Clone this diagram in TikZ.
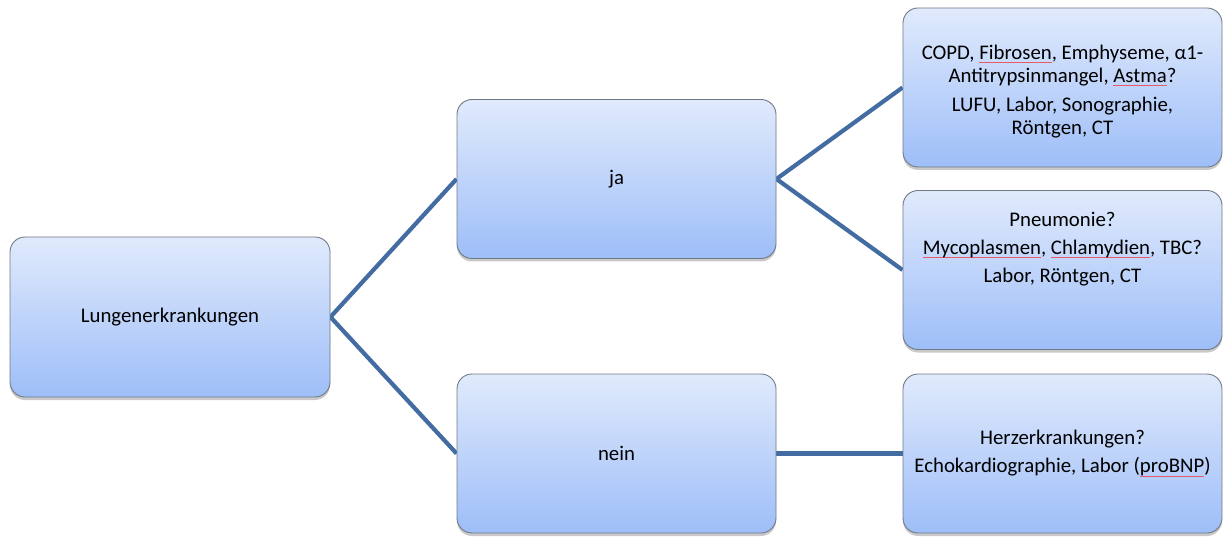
\documentclass[tikz,border=0pt]{standalone}
\usepackage{fontspec}
\setmainfont{Carlito}
\usetikzlibrary{shadows,backgrounds}
\definecolor{boxtop}{RGB}{224,234,252}
\definecolor{boxbot}{RGB}{158,190,248}
\definecolor{boxline}{RGB}{112,122,134}
\definecolor{conn}{RGB}{66,108,162}
\definecolor{splred}{RGB}{230,90,110}
\newlength\spllen
\newcommand\spl[1]{\settowidth\spllen{#1}\rlap{\textcolor{splred}{\rule[-3.5pt]{\spllen}{0.8pt}}}#1}
\tikzset{
  box/.style={draw=boxline, line width=0.9pt, rounded corners=15pt,
    top color=boxtop, bottom color=boxbot, minimum width=319pt, minimum height=159pt,
    inner sep=0pt,
    drop shadow={shadow xshift=0pt, shadow yshift=-3pt, opacity=0.3, fill=black!70}},
  txt/.style={align=center, font=\fontsize{20.8pt}{23pt}\selectfont, inner sep=0pt},
  conn/.style={draw=conn, line width=4.2pt}
}
\begin{document}
\begin{tikzpicture}[x=1pt,y=1pt]
\useasboundingbox (0,0) rectangle (1223,536);
\node[box, minimum width=320pt, minimum height=160pt] (L) at (170,219) {};
\node[box] (ja) at (616.5,357) {};
\node[box] (nein) at (616.5,82.5) {};
\node[box] (b1) at (1062.5,448.5) {};
\node[box] (b2) at (1062.5,266) {};
\node[box] (b3) at (1062.5,82.5) {};
\node[txt] (tL) at (L.center) {Lungenerkrankungen};
\node[txt] (tja) at (ja.center) {ja};
\node[txt] (tnein) at (nein.center) {nein};
\node[txt, yshift=-4pt] (t1) at (b1.center) {COPD, \spl{Fibrosen}, Emphyseme, α1-\\Antitrypsinmangel, \spl{Astma}?\\[6pt]LUFU, Labor, Sonographie,\\Röntgen, CT};
\node[txt, yshift=21pt] (t2) at (b2.center) {Pneumonie?\\[5pt]\spl{Mycoplasmen}, \spl{Chlamydien}, TBC?\\[5pt]Labor, Röntgen, CT};
\node[txt] (t3) at (b3.center) {Herzerkrankungen?\\[5pt]Echokardiographie, Labor (\spl{proBNP})};
\begin{pgfonlayer}{background}
\draw[conn] (L.east) -- (ja.west);
\draw[conn] (L.east) -- (nein.west);
\draw[conn] (ja.east) -- (b1.west);
\draw[conn] (ja.east) -- (b2.west);
\draw[conn] (nein.east) -- (b3.west);
\end{pgfonlayer}
\end{tikzpicture}
\end{document}
